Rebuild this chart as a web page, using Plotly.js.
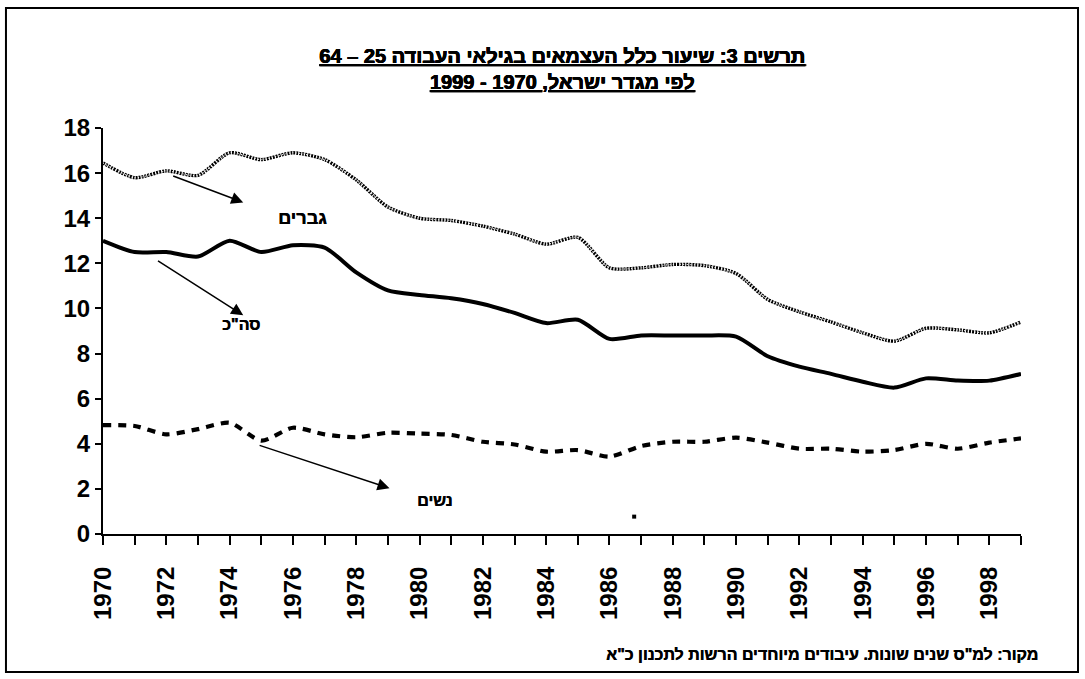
<!DOCTYPE html>
<html>
<head>
<meta charset="utf-8">
<script src="https://cdn.plot.ly/plotly-3.0.1.min.js"></script>
<style>
html,body{margin:0;padding:0;background:#fff;}
#chart{width:1085px;height:679px;}
</style>
</head>
<body>
<div id="chart"></div>
<script>
var years = [1970,1971,1972,1973,1974,1975,1976,1977,1978,1979,1980,1981,1982,1983,1984,1985,1986,1987,1988,1989,1990,1991,1992,1993,1994,1995,1996,1997,1998,1999];
var men = [16.45,15.8,16.1,15.9,16.9,16.6,16.9,16.6,15.7,14.5,14.0,13.9,13.65,13.3,12.85,13.15,11.8,11.8,11.95,11.9,11.55,10.4,9.85,9.4,8.92,8.55,9.12,9.05,8.92,9.4];
var total = [13.0,12.5,12.5,12.3,13.0,12.5,12.8,12.7,11.6,10.8,10.6,10.45,10.2,9.8,9.35,9.5,8.65,8.8,8.8,8.8,8.75,7.88,7.42,7.1,6.75,6.49,6.9,6.8,6.8,7.1];
var women = [4.83,4.79,4.42,4.65,4.93,4.14,4.71,4.42,4.29,4.49,4.45,4.39,4.09,3.97,3.65,3.72,3.43,3.9,4.09,4.09,4.27,4.05,3.78,3.78,3.65,3.72,4.0,3.78,4.05,4.24];
var strayX = [1986.78];
var strayY = [0.77];

var seriesLabels = ['גברים', 'סה"כ', 'נשים'];
var titleLine1 = 'תרשים 3: שיעור כלל העצמאים בגילאי העבודה 25 – 64';
var titleLine2 = 'לפי מגדר ישראל, 1970 - 1999';
var sourceText = 'מקור: למ"ס שנים שונות. עיבודים מיוחדים הרשות לתכנון כ"א';

var yTicks = [0,2,4,6,8,10,12,14,16,18];
var xTickText = years.map(function(y){ return (y % 2 === 0) ? String(y) : ''; });

var FONT = 'Liberation Sans';
var HEAVY = '0.5px 0 0 #000';

function lineStyle(extra) {
  var o = {color: '#000', shape: 'spline', smoothing: 0.7};
  for (var k in extra) o[k] = extra[k];
  return o;
}

var traces = [
  {x: years, y: men, mode: 'lines', name: seriesLabels[0],
   line: lineStyle({width: 3.4, dash: '2px,1px'})},
  {x: years, y: men, mode: 'lines', name: '',
   line: lineStyle({color: '#fff', width: 1.1, dash: '1px,2.5px'})},
  {x: years, y: total, mode: 'lines', name: seriesLabels[1],
   line: lineStyle({width: 4})},
  {x: years, y: women, mode: 'lines', name: seriesLabels[2],
   line: lineStyle({width: 4.2, dash: '8px,7px'})},
  {x: strayX, y: strayY, mode: 'markers', name: '',
   marker: {symbol: 'square', size: 4, color: '#000'}}
];

function arrow(tx, ty, hx, hy) {
  return {x: hx, y: hy, ax: tx, ay: ty, xref: 'x', yref: 'y', axref: 'x', ayref: 'y',
    showarrow: true, arrowhead: 2, arrowsize: 1.6, arrowwidth: 1.5, arrowcolor: '#000', text: ''};
}

var layout = {
  width: 1085, height: 679,
  margin: {l: 103, r: 64, t: 128, b: 145},
  paper_bgcolor: '#fff', plot_bgcolor: '#fff',
  showlegend: false,
  font: {family: FONT, color: '#000'},
  title: {
    text: '<b><u>' + titleLine1 + '</u></b><br><b><u>' + titleLine2 + '</u></b>',
    font: {family: FONT, size: 20, color: '#000', shadow: '0.6px 0 0 #000'},
    x: 0.5, xanchor: 'center', xref: 'paper',
    y: 0.907, yanchor: 'top', yref: 'container'
  },
  xaxis: {
    range: [1970, 1999],
    tickmode: 'array', tickvals: years, ticktext: xTickText,
    tickangle: -90,
    ticks: 'outside', ticklen: 9, tickwidth: 2, tickcolor: '#000',
    ticklabelstandoff: 12,
    showline: true, linewidth: 2, linecolor: '#000',
    showgrid: false, zeroline: false,
    tickfont: {family: FONT, size: 24, color: '#000', weight: 'bold'}
  },
  yaxis: {
    range: [0, 18],
    tickmode: 'array', tickvals: yTicks,
    ticks: 'outside', ticklen: 6, tickwidth: 2, tickcolor: '#000',
    showline: true, linewidth: 2, linecolor: '#000',
    showgrid: false, zeroline: false,
    tickfont: {family: FONT, size: 24, color: '#000', weight: 'bold'}
  },
  shapes: [
    {type: 'rect', xref: 'paper', yref: 'paper', x0: -0.1057, x1: 1.0621, y0: -0.3399, y1: 1.2956,
     line: {color: '#000', width: 2}, fillcolor: 'rgba(0,0,0,0)', layer: 'below'}
  ],
  annotations: [
    arrow(1972.17, 15.9, 1974.43, 14.7),
    arrow(1971.69, 12.15, 1974.43, 9.7),
    arrow(1974.9, 3.95, 1979.05, 2.03),
    {x: 1976.3, y: 14.0, xref: 'x', yref: 'y', text: '<b>' + seriesLabels[0] + '</b>', showarrow: false,
     font: {family: FONT, size: 18, color: '#000', shadow: HEAVY}},
    {x: 1974.35, y: 9.3, xref: 'x', yref: 'y', text: '<b>' + seriesLabels[1] + '</b>', showarrow: false,
     font: {family: FONT, size: 16, color: '#000', shadow: HEAVY}},
    {x: 1980.5, y: 1.5, xref: 'x', yref: 'y', text: '<b>' + seriesLabels[2] + '</b>', showarrow: false,
     font: {family: FONT, size: 16, color: '#000', shadow: HEAVY}},
    {x: (1040 - 103) / 918, y: (534 - 654) / 406, xref: 'paper', yref: 'paper', xanchor: 'right', yanchor: 'middle',
     text: '<b>' + sourceText + '</b>', showarrow: false,
     font: {family: FONT, size: 16, color: '#000', shadow: HEAVY}}
  ]
};

Plotly.newPlot('chart', traces, layout, {displayModeBar: false, staticPlot: true});
</script>
</body>
</html>
